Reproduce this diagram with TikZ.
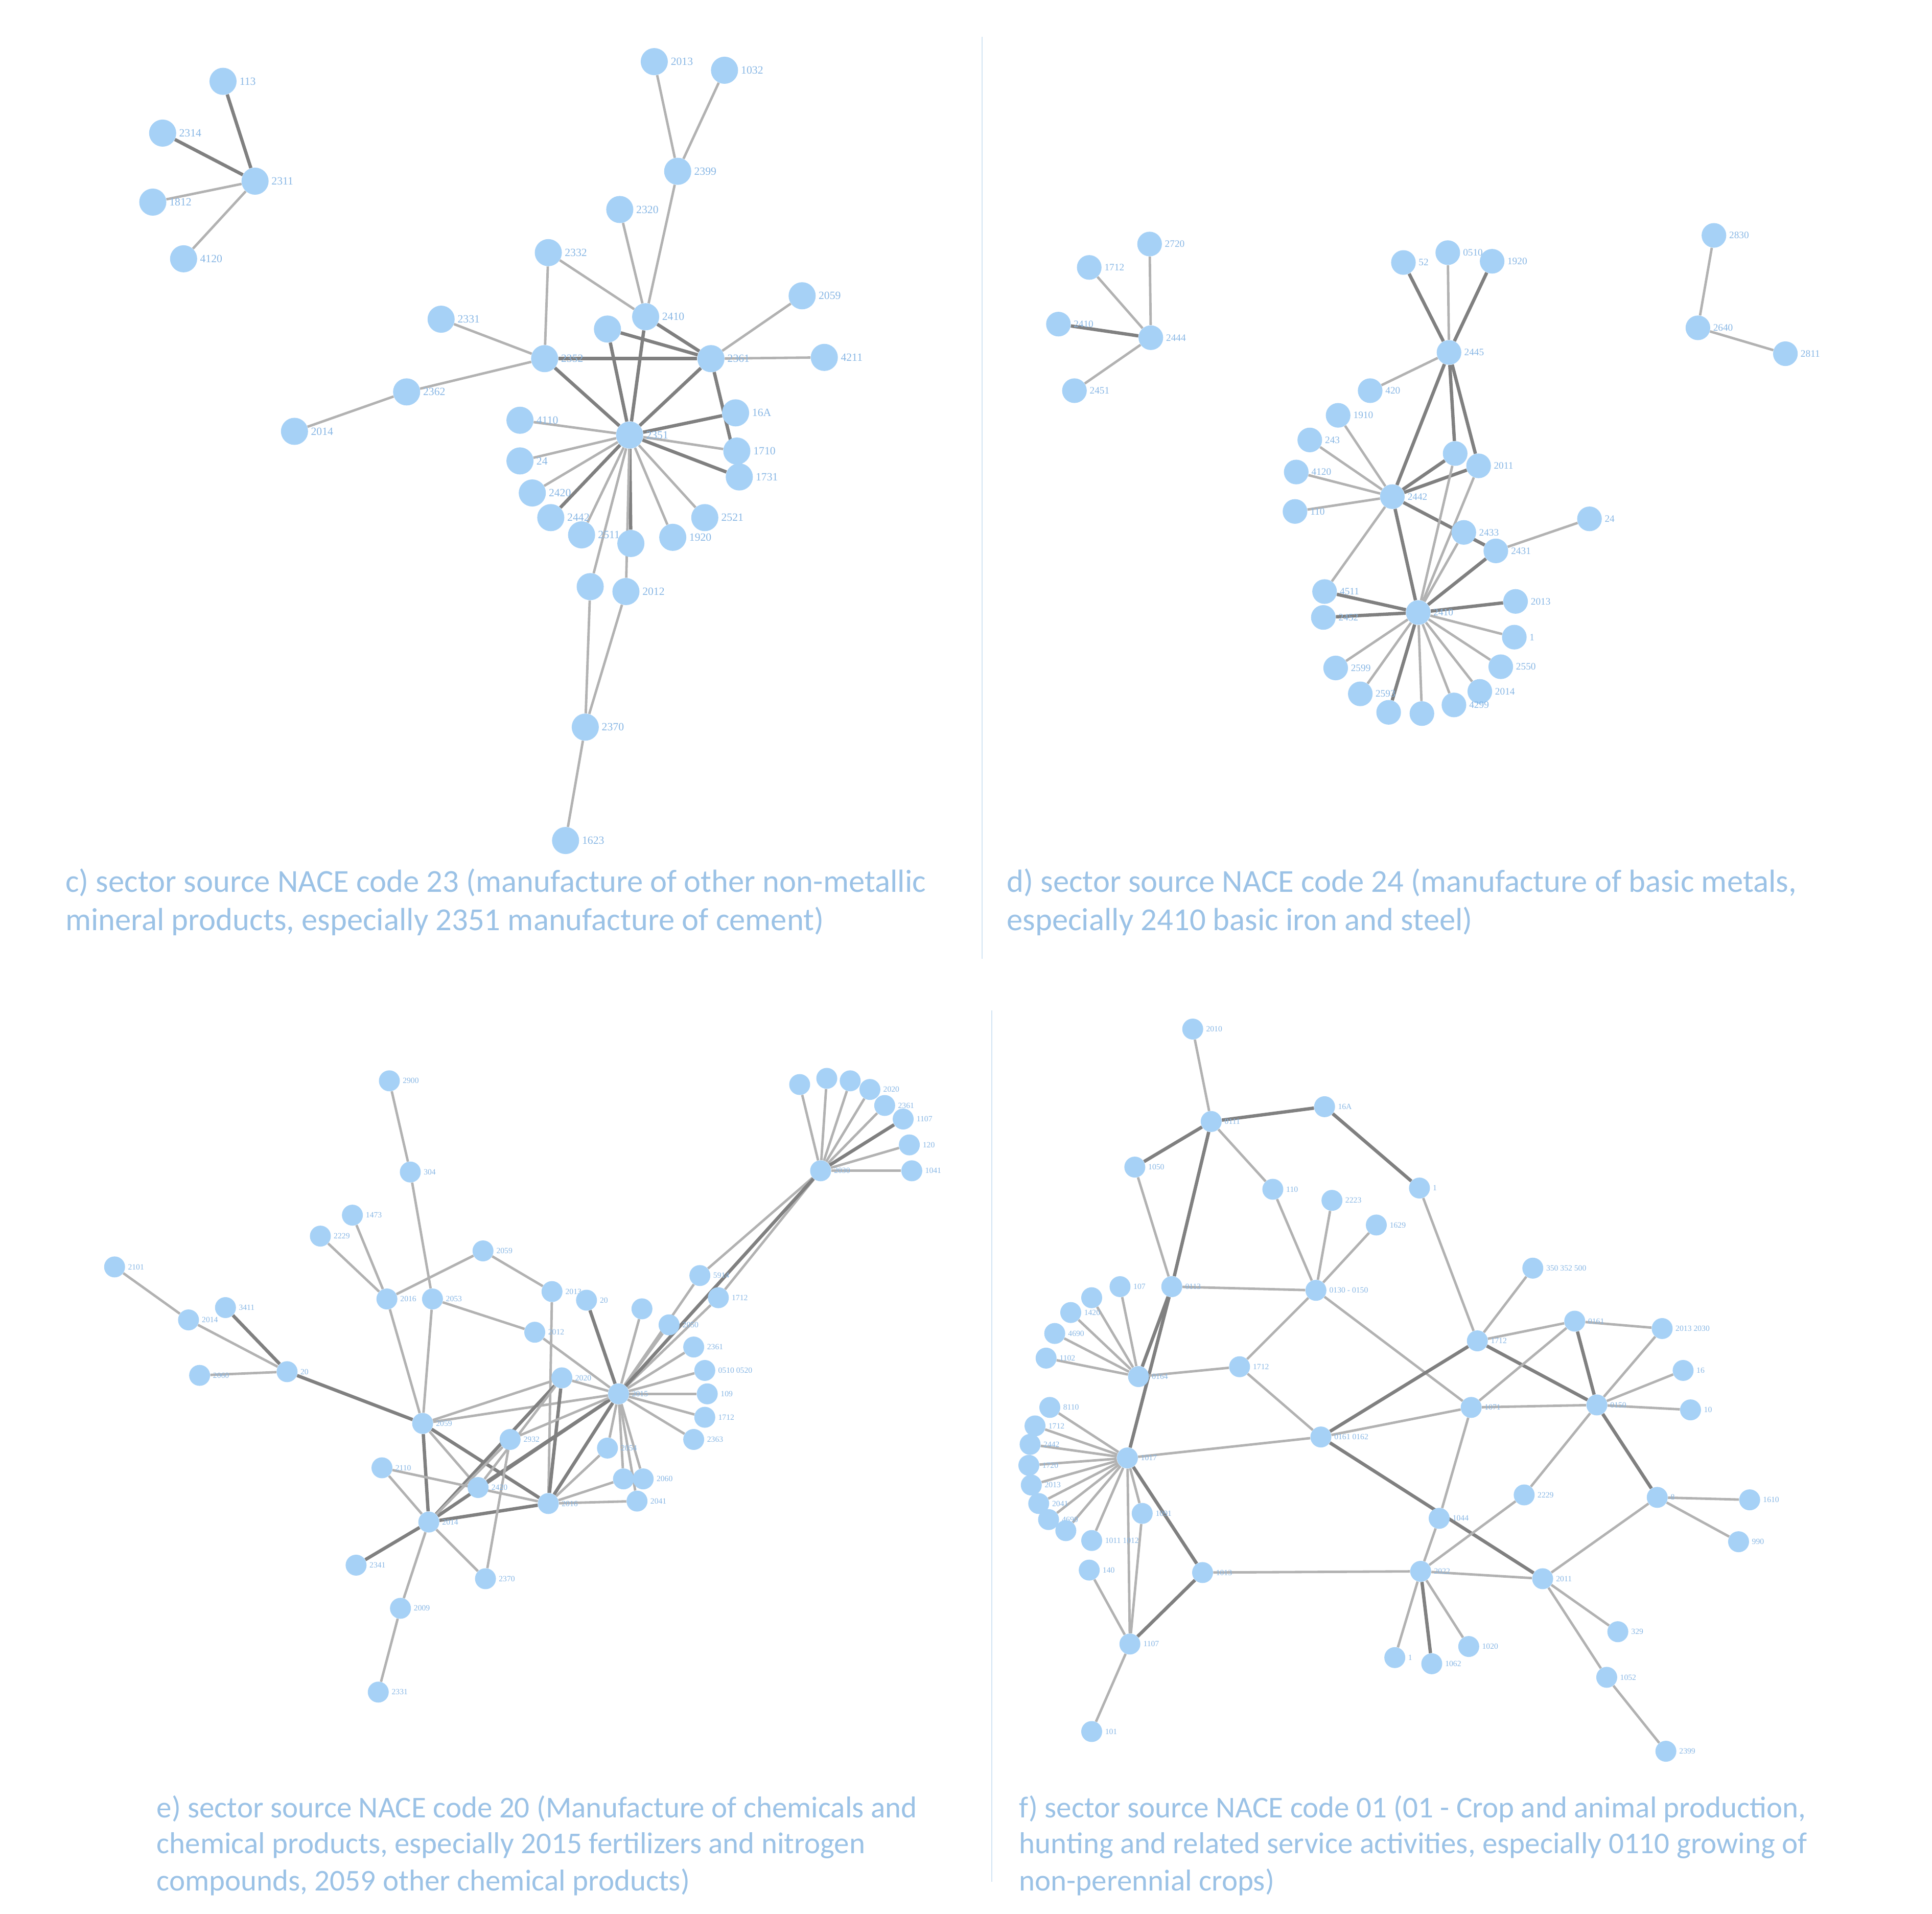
\documentclass[tikz,border=0pt]{standalone}
\usepackage{fontspec}
\setmainfont{Carlito}
\newfontfamily\lblfont{Liberation Serif}
\usetikzlibrary{backgrounds}
\definecolor{nodec}{RGB}{166,209,246}
\definecolor{capc}{RGB}{155,194,230}
\definecolor{lbc}{RGB}{135,182,228}
\definecolor{edl}{RGB}{178,178,178}
\definecolor{edk}{RGB}{128,128,128}
\def\ndsize{22pt}
\def\lbsize{8.5}
\tikzset{
  nd/.style={circle,fill=nodec,inner sep=0pt,minimum size=\ndsize},
  lb/.style={text=lbc,font=\lblfont\fontsize{\lbsize}{\lbsize}\selectfont,inner sep=1pt,label distance=1pt},
  edg/.style={draw=edl,line width=2pt},
  edd/.style={draw=edk,line width=2.7pt},
  captxt/.style={text=capc,anchor=base west,inner sep=0pt},
  capcd/.style={captxt,font=\fontsize{26}{31}\selectfont},
  capef/.style={captxt,font=\fontsize{24.5}{30}\selectfont},
  divline/.style={draw=capc!45,line width=0.8pt}
}
\newcommand\mynd[4]{\node[nd,label={[lb]right:#4}] (#1) at (#2,#3) {};}
\newcommand\ee[2]{\path[edg] (#1) -- (#2);}
\newcommand\ed[2]{\path[edd] (#1) -- (#2);}
\begin{document}
\begin{tikzpicture}[x=1pt,y=-1pt]
\useasboundingbox (0,0) rectangle (1568,1553);
\path[divline] (797,30) -- (797,778);
\path[divline] (805,820) -- (805,1527);
% ================= panel c =================
\def\ndsize{22pt}\def\lbsize{9}
\mynd{cA}{181}{66}{113}
\mynd{cB}{132}{108}{2314}
\mynd{cC}{207}{147}{2311}
\mynd{cD}{124}{164}{1812}
\mynd{cE}{149}{210}{4120}
\mynd{c1}{531}{50}{2013}
\mynd{c2}{588}{57}{1032}
\mynd{c3}{550}{139}{2399}
\mynd{c4}{503}{170}{2320}
\mynd{c5}{445}{205}{2332}
\mynd{c6}{651}{240}{2059}
\mynd{c7}{524}{257}{2410}
\mynd{c8}{358}{259}{2331}
\mynd{c9}{493}{267}{}
\mynd{c10}{442}{291}{2352}
\mynd{c11}{577}{291}{2361}
\mynd{c12}{669}{290}{4211}
\mynd{c13}{330}{318}{2362}
\mynd{c14}{239}{350}{2014}
\mynd{c15}{511}{353}{2351}
\mynd{c16}{422}{341}{4110}
\mynd{c17}{422}{374}{24}
\mynd{c18}{432}{400}{2420}
\mynd{c19}{447}{420}{2442}
\mynd{c20}{472}{434}{2511}
\mynd{c21}{512}{441}{}
\mynd{c22}{546}{436}{1920}
\mynd{c23}{572}{420}{2521}
\mynd{c24}{597}{335}{16A}
\mynd{c25}{598}{366}{1710}
\mynd{c26}{600}{387}{1731}
\mynd{c27}{479}{476}{}
\mynd{c28}{508}{480}{2012}
\mynd{c29}{475}{590}{2370}
\mynd{c30}{459}{682}{1623}
% ================= panel d =================
\def\ndsize{20pt}\def\lbsize{8}
\mynd{dA}{933}{198}{2720}
\mynd{dB}{884}{217}{1712}
\mynd{dC}{859}{263}{2410}
\mynd{dD}{934}{274}{2444}
\mynd{dE}{872}{317}{2451}
\mynd{d1}{1139}{213}{52}
\mynd{d2}{1175}{205}{0510}
\mynd{d3}{1211}{212}{1920}
\mynd{d4}{1176}{286}{2445}
\mynd{d5}{1112}{317}{420}
\mynd{d6}{1086}{337}{1910}
\mynd{d7}{1063}{357}{243}
\mynd{d8}{1052}{383}{4120}
\mynd{d9}{1051}{415}{110}
\mynd{d10}{1130}{403}{2442}
\mynd{d11}{1181}{368}{}
\mynd{d12}{1200}{378}{2011}
\mynd{d13}{1188}{432}{2433}
\mynd{d14}{1214}{447}{2431}
\mynd{d15}{1290}{421}{24}
\mynd{d16}{1151}{497}{2410}
\mynd{d17}{1075}{480}{4511}
\mynd{d18}{1074}{501}{2452}
\mynd{d19}{1230}{488}{2013}
\mynd{d20}{1229}{517}{1}
\mynd{d21}{1218}{541}{2550}
\mynd{d22}{1084}{542}{2599}
\mynd{d23}{1104}{563}{2593}
\mynd{d24}{1201}{561}{2014}
\mynd{d25}{1127}{578}{}
\mynd{d26}{1154}{579}{}
\mynd{d27}{1180}{572}{4299}
\mynd{dX}{1391}{191}{2830}
\mynd{dY}{1378}{266}{2640}
\mynd{dZ}{1449}{287}{2811}
% ================= panel e =================
\def\ndsize{17pt}\def\lbsize{6.5}
\mynd{e1}{316}{877}{2900}
\mynd{e2}{333}{951}{304}
\mynd{e3}{286}{986}{1473}
\mynd{e4}{260}{1003}{2229}
\mynd{e5}{93}{1028}{2101}
\mynd{e6}{392}{1015}{2059}
\mynd{e7}{183}{1061}{3411}
\mynd{e8}{153}{1071}{2014}
\mynd{e9}{162}{1116}{2060}
\mynd{e10}{233}{1113}{20}
\mynd{e11}{314}{1054}{2016}
\mynd{e12}{351}{1054}{2053}
\mynd{e13}{448}{1048}{2013}
\mynd{e14}{476}{1055}{20}
\mynd{e15}{434}{1081}{2012}
\mynd{e16}{521}{1062}{}
\mynd{e17}{543}{1075}{2050}
\mynd{e18}{568}{1035}{5914}
\mynd{e19}{583}{1053}{1712}
\mynd{e20}{563}{1093}{2361}
\mynd{e21}{572}{1112}{0510 0520}
\mynd{e22}{574}{1131}{109}
\mynd{e23}{572}{1150}{1712}
\mynd{e24}{563}{1168}{2363}
\mynd{e25}{502}{1131}{2015}
\mynd{e26}{456}{1118}{2020}
\mynd{e27}{343}{1155}{2059}
\mynd{e28}{414}{1168}{2932}
\mynd{e30}{493}{1175}{2054}
\mynd{e31}{506}{1200}{}
\mynd{e32}{522}{1200}{2060}
\mynd{e33}{517}{1218}{2041}
\mynd{e34}{445}{1220}{2016}
\mynd{e35}{388}{1207}{2420}
\mynd{e36}{310}{1191}{2110}
\mynd{e37}{348}{1235}{2014}
\mynd{e38}{289}{1270}{2341}
\mynd{e39}{394}{1281}{2370}
\mynd{e40}{325}{1305}{2009}
\mynd{e41}{307}{1373}{2331}
\mynd{eH}{666}{950}{2030}
\mynd{eF1}{649}{880}{}
\mynd{eF2}{671}{875}{}
\mynd{eF3}{690}{877}{}
\mynd{eF4}{706}{884}{2020}
\mynd{eF5}{718}{897}{2361}
\mynd{eF6}{733}{908}{1107}
\mynd{eF7}{738}{929}{120}
\mynd{eF8}{740}{950}{1041}
% ================= panel f =================
\def\ndsize{17pt}\def\lbsize{6.5}
\mynd{f1}{968}{835}{2010}
\mynd{f2}{983}{910}{0111}
\mynd{f3}{1075}{898}{16A}
\mynd{f4}{1152}{964}{1}
\mynd{f5}{921}{947}{1050}
\mynd{f6}{1033}{965}{110}
\mynd{f7}{1081}{974}{2223}
\mynd{f8}{1117}{994}{1629}
\mynd{f9}{951}{1044}{0113}
\mynd{f10}{1068}{1047}{0130 - 0150}
\mynd{f11}{1244}{1029}{350 352 500}
\mynd{f12}{1278}{1072}{0161}
\mynd{f13}{1349}{1078}{2013 2030}
\mynd{f14}{1199}{1088}{1712}
\mynd{f15}{1366}{1112}{16}
\mynd{f16}{1372}{1144}{10}
\mynd{f17}{1296}{1140}{0150}
\mynd{f18}{1194}{1142}{1071}
\mynd{f19}{1006}{1109}{1712}
\mynd{f20}{924}{1117}{0164}
\mynd{f21}{1072}{1166}{0161 0162}
\mynd{f22}{915}{1183}{1017}
\mynd{f23}{1237}{1213}{2229}
\mynd{f24}{1345}{1215}{8}
\mynd{f25}{1420}{1217}{1610}
\mynd{f26}{1411}{1251}{990}
\mynd{f27}{1168}{1232}{1044}
\mynd{f28}{927}{1228}{1091}
\mynd{f29}{976}{1276}{1013}
\mynd{f30}{1153}{1275}{2022}
\mynd{f31}{1252}{1281}{2011}
\mynd{f32}{886}{1250}{1011 1012}
\mynd{f33}{884}{1274}{140}
\mynd{f34}{917}{1334}{1107}
\mynd{f35}{886}{1405}{101}
\mynd{f36}{1313}{1324}{329}
\mynd{f37}{1304}{1361}{1052}
\mynd{f38}{1352}{1421}{2399}
\mynd{f39}{1132}{1345}{1}
\mynd{f40}{1162}{1350}{1062}
\mynd{f41}{1192}{1336}{1020}
\mynd{g1}{909}{1044}{107}
\mynd{g2}{886}{1053}{}
\mynd{g3}{869}{1065}{1420}
\mynd{g4}{856}{1082}{4690}
\mynd{g5}{849}{1102}{1102}
\mynd{h1}{852}{1142}{8110}
\mynd{h2}{840}{1157}{1712}
\mynd{h3}{836}{1172}{2442}
\mynd{h4}{835}{1189}{1720}
\mynd{h5}{837}{1205}{2013}
\mynd{h6}{843}{1220}{2041}
\mynd{h7}{851}{1233}{4690}
\mynd{h8}{865}{1242}{}
% ================= edges =================
\begin{pgfonlayer}{background}
% c
\ed{cC}{cA}\ed{cC}{cB}\ee{cC}{cD}\ee{cC}{cE}
\ee{c1}{c3}\ee{c2}{c3}\ee{c3}{c7}\ee{c4}{c7}\ee{c5}{c7}\ee{c5}{c10}
\ee{c8}{c10}\ee{c13}{c10}\ee{c13}{c14}
\ed{c10}{c11}\ed{c10}{c15}\ed{c7}{c11}\ed{c7}{c15}\ed{c9}{c11}\ed{c9}{c15}
\ee{c6}{c11}\ee{c12}{c11}\ed{c11}{c15}\ed{c11}{c26}
\ed{c15}{c24}\ee{c15}{c25}\ed{c15}{c26}\ee{c15}{c23}\ee{c15}{c22}
\ee{c15}{c16}\ee{c15}{c17}\ee{c15}{c18}\ed{c15}{c19}\ee{c15}{c20}\ed{c15}{c21}
\ee{c15}{c27}\ee{c15}{c28}\ee{c27}{c29}\ee{c28}{c29}\ee{c29}{c30}
% d
\ee{dD}{dA}\ee{dD}{dB}\ed{dD}{dC}\ee{dD}{dE}
\ed{d4}{d1}\ee{d4}{d2}\ed{d4}{d3}\ee{d4}{d5}\ed{d4}{d10}\ed{d4}{d11}\ed{d4}{d12}
\ee{d10}{d6}\ee{d10}{d7}\ee{d10}{d8}\ee{d10}{d9}\ed{d10}{d11}\ed{d10}{d12}
\ed{d10}{d16}\ed{d10}{d14}\ee{d10}{d17}
\ee{d13}{d16}\ed{d14}{d16}\ee{d11}{d16}\ee{d12}{d16}\ee{d14}{d15}
\ed{d16}{d17}\ed{d16}{d18}\ed{d16}{d19}\ee{d16}{d20}\ee{d16}{d21}\ee{d16}{d22}
\ee{d16}{d23}\ee{d16}{d24}\ed{d16}{d25}\ee{d16}{d26}\ee{d16}{d27}
\ee{dX}{dY}\ee{dY}{dZ}
% e
\ee{e1}{e2}\ee{e2}{e12}\ee{e12}{e27}\ee{e11}{e27}\ee{e4}{e11}\ee{e3}{e11}
\ee{e11}{e6}\ee{e6}{e13}\ee{e12}{e15}\ee{e15}{e25}\ee{e13}{e34}\ed{e14}{e25}
\ee{e5}{e8}\ee{e8}{e10}\ed{e7}{e10}\ee{e9}{e10}\ed{e10}{e27}
\ee{e27}{e25}\ee{e27}{e26}\ed{e27}{e34}\ed{e27}{e37}\ee{e27}{e35}
\ee{e25}{e18}\ee{e25}{e16}\ee{e25}{e17}\ee{e25}{e19}\ee{e25}{e20}\ee{e25}{e21}
\ee{e25}{e22}\ee{e25}{e23}\ee{e25}{e24}\ee{e25}{e31}\ee{e25}{e32}\ee{e25}{e33}
\ee{e25}{e30}\ed{e25}{e34}\ed{e25}{e37}\ed{e25}{e35}\ee{e25}{e26}
\ee{eH}{e18}\ee{eH}{e19}\ed{eH}{e25}
\ee{eH}{eF1}\ee{eH}{eF2}\ee{eH}{eF3}\ee{eH}{eF4}\ee{eH}{eF5}\ed{eH}{eF6}\ee{eH}{eF7}\ee{eH}{eF8}
\ed{e26}{e37}\ed{e26}{e34}\ee{e26}{e35}\ee{e36}{e37}\ee{e36}{e34}\ed{e37}{e34}
\ed{e37}{e38}\ee{e39}{e37}\ee{e39}{e28}\ee{e37}{e40}\ee{e40}{e41}
\ee{e34}{e31}\ee{e34}{e33}\ee{e34}{e30}\ee{e28}{e37}\ee{e28}{e25}
% f
\ee{f1}{f2}\ed{f2}{f3}\ed{f3}{f4}\ed{f2}{f5}\ee{f2}{f6}\ed{f2}{f9}\ee{f5}{f9}
\ee{f9}{f10}\ed{f9}{f20}\ed{f9}{f22}
\ee{f6}{f10}\ee{f7}{f10}\ee{f8}{f10}\ee{f10}{f19}\ee{f10}{f18}\ee{f4}{f14}
\ee{f20}{f19}\ee{f19}{f21}\ee{f21}{f22}\ed{f21}{f14}\ee{f21}{f18}\ed{f21}{f31}
\ee{f14}{f11}\ee{f14}{f12}\ed{f14}{f17}\ee{f12}{f13}\ed{f12}{f17}\ee{f12}{f18}
\ee{f18}{f17}\ee{f18}{f27}\ee{f27}{f30}\ee{f17}{f13}\ee{f17}{f15}\ee{f17}{f16}
\ee{f17}{f23}\ed{f17}{f24}\ee{f23}{f30}\ee{f24}{f25}\ee{f24}{f26}\ee{f24}{f31}
\ee{f30}{f29}\ee{f30}{f31}\ee{f30}{f39}\ed{f30}{f40}\ee{f30}{f41}
\ee{f31}{f36}\ee{f31}{f37}\ee{f37}{f38}
\ee{f22}{f28}\ed{f22}{f29}\ee{f22}{f34}\ee{f28}{f34}\ed{f29}{f34}\ee{f33}{f34}
\ee{f32}{f22}\ee{f34}{f35}
\ee{f20}{g1}\ee{f20}{g2}\ee{f20}{g3}\ee{f20}{g4}\ee{f20}{g5}
\ee{f22}{h1}\ee{f22}{h2}\ee{f22}{h3}\ee{f22}{h4}\ee{f22}{h5}\ee{f22}{h6}\ee{f22}{h7}\ee{f22}{h8}
\end{pgfonlayer}
% ================= captions =================
\node[capcd] (capc1) at (53,724) {c) sector source NACE code 23 (manufacture of other non-metallic};
\node[capcd] (capc2) at (53,755) {mineral products, especially 2351 manufacture of cement)};
\node[capcd] (capd1) at (817,724) {d) sector source NACE code 24 (manufacture of basic metals,};
\node[capcd] (capd2) at (817,755) {especially 2410 basic iron and steel)};
\node[capef] (cape1) at (127,1475) {e) sector source NACE code 20 (Manufacture of chemicals and};
\node[capef] (cape2) at (127,1504) {chemical products, especially 2015 fertilizers and nitrogen};
\node[capef] (cape3) at (127,1534) {compounds, 2059 other chemical products)};
\node[capef] (capf1) at (827,1475) {f) sector source NACE code 01 (01 - Crop and animal production,};
\node[capef] (capf2) at (827,1504) {hunting and related service activities, especially 0110 growing of};
\node[capef] (capf3) at (827,1534) {non-perennial crops)};
\end{tikzpicture}
\end{document}
